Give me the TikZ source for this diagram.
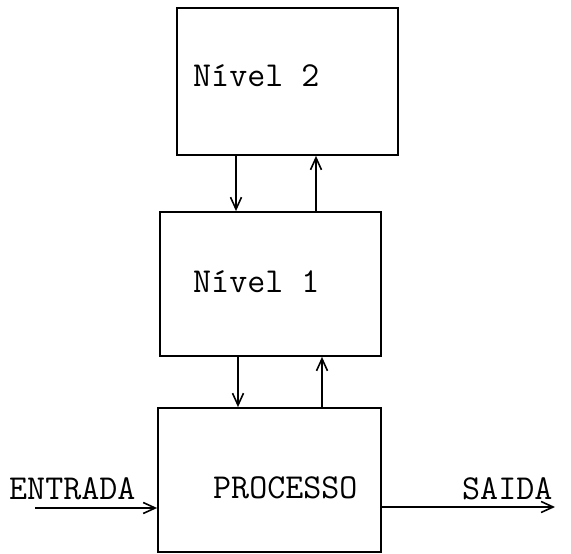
\documentclass[tikz,border=0pt]{standalone}
\usetikzlibrary{arrows.meta}
\begin{document}
\begin{tikzpicture}[x=1pt,y=1pt,
  box/.style={draw, line width=1.8pt, inner sep=0pt},
  lbl/.style={inner sep=0pt, anchor=base west, font=\ttfamily\fontsize{35}{40}\selectfont},
  arr/.style={line width=1.2pt, -{Straight Barb[length=12pt,width=11pt,line width=1.6pt]}}]
\useasboundingbox (0,0) rectangle (571,554);
% boxes
\node[box, minimum width=221pt, minimum height=147pt] (n2) at (287.5,472.5) {};
\node[box, minimum width=221pt, minimum height=144pt] (n1) at (270.5,270) {};
\node[box, minimum width=223pt, minimum height=144pt] (pr) at (269.5,74) {};
% texts
\node[lbl] (n2t) at (193,467) {Nível 2};
\node[lbl] (n1t) at (193,261) {Nível 1};
\node[lbl] (prt) at (213,55) {PROCESSO};
\node[lbl] (ent) at (9,54) {ENTRADA};
\node[lbl] (sai) at (462,54) {SAIDA};
% helper coordinates
\coordinate (xa) at (236,0);
\coordinate (xb) at (316,0);
\coordinate (xc) at (238,0);
\coordinate (xd) at (322,0);
\coordinate (ein) at (35,46);
\coordinate (sout) at (555,47);
% connectors
\draw[arr] (n2.south -| xa) -- (n1.north -| xa);
\draw[arr] (n1.north -| xb) -- (n2.south -| xb);
\draw[arr] (n1.south -| xc) -- (pr.north -| xc);
\draw[arr] (pr.north -| xd) -- (n1.south -| xd);
\draw[arr] (ein) -- (pr.west |- ein);
\draw[arr] (pr.east |- sout) -- (sout);
\end{tikzpicture}
\end{document}
